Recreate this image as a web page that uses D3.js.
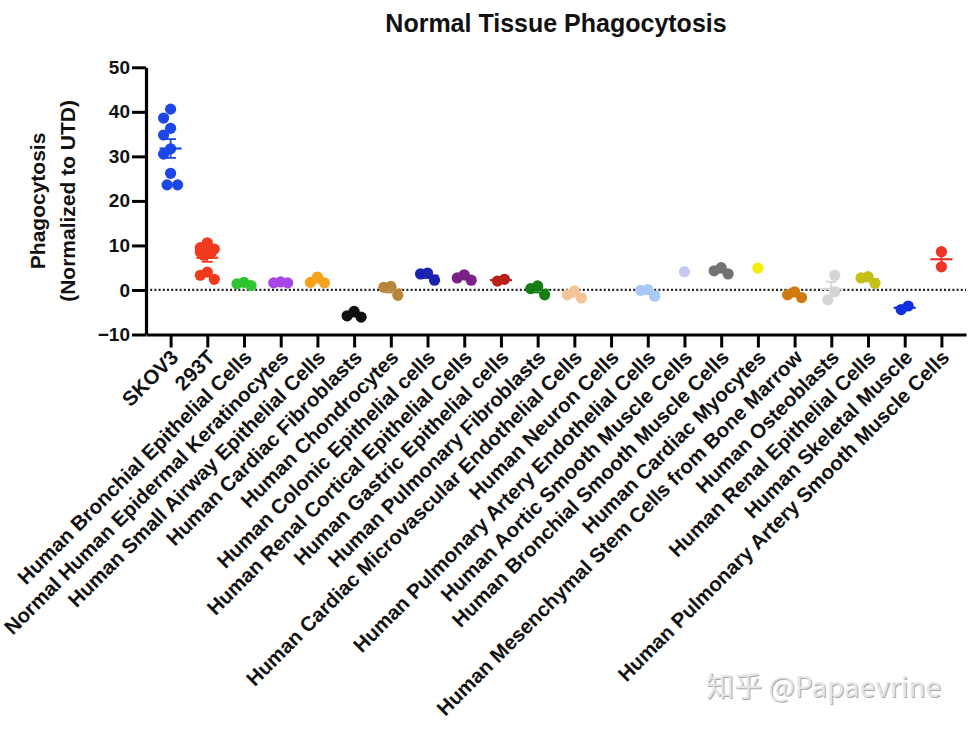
<!DOCTYPE html>
<html>
<head>
<meta charset="utf-8">
<script src="https://cdn.jsdelivr.net/npm/d3@7"></script>
<style>
  html, body { margin: 0; padding: 0; background: #fff; }
  svg { display: block; }
  text { font-family: "Liberation Sans", Arial, Helvetica, sans-serif; }
</style>
</head>
<body>
<svg id="chart" width="978" height="731"></svg>
<script>
// ---------- DATA ----------
const categories = [
  "SKOV3", "293T", "Human Bronchial Epithelial Cells", "Normal Human Epidermal Keratinocytes",
  "Human Small Airway Epithelial Cells", "Human Cardiac Fibroblasts", "Human Chondrocytes",
  "Human Colonic Epithelial cells", "Human Renal Cortical Epithelial Cells", "Human Gastric Epithelial cells",
  "Human Pulmonary Fibroblasts", "Human Cardiac Microvascular Endothelial Cells", "Human Neuron Cells",
  "Human Pulmonary Artery Endothelial Cells", "Human Aortic Smooth Muscle Cells",
  "Human Bronchial Smooth Muscle Cells", "Human Cardiac Myocytes",
  "Human Mesenchymal Stem Cells from Bone Marrow", "Human Osteoblasts", "Human Renal Epithelial Cells",
  "Human Skeletal Muscle", "Human Pulmonary Artery Smooth Muscle Cells"
];
const skov3Values        = [40.6, 38.6, 36.3, 34.8, 31.7, 30.5, 26.2, 23.6, 23.6];
const t293Values         = [10.6, 9.5, 9.2, 8.8, 8.5, 8.2, 7.8, 4.0, 3.3, 2.4];
const bronchEpiValues    = [1.0, 1.7, 1.4];
const keratinValues      = [1.6, 1.8, 1.6];
const smallAirwayValues  = [2.9, 1.6, 1.7];
const cardFibroValues    = [-4.8, -6.1, -5.8];
const chondroValues      = [-1.2, 0.8, 0.6];
const colonicValues      = [2.2, 3.8, 3.6];
const renalCortValues    = [2.2, 3.4, 2.7];
const gastricValues      = [2.0, 2.4];
const pulmFibroValues    = [-1.1, 0.9, 0.3];
const cardMicroValues    = [-1.8, -0.2, -1.1];
const neuronValues       = [];
const pulmArtEndoValues  = [-1.4, 0.1, -0.1];
const aorticSMValues     = [4.1];
const bronchSMValues     = [3.6, 4.3, 5.0];
const cardMyoValues      = [4.9];
const mscValues          = [-1.7, -0.4, -1.1];
const osteoValues        = [3.3, -0.4, -2.2];
const renalEpiValues     = [1.5, 3.0, 2.7];
const skeletalValues     = [-4.4, -3.6];
const pulmArtSMValues    = [8.6, 5.2];

const groupValues = [
  skov3Values, t293Values, bronchEpiValues, keratinValues, smallAirwayValues, cardFibroValues,
  chondroValues, colonicValues, renalCortValues, gastricValues, pulmFibroValues, cardMicroValues,
  neuronValues, pulmArtEndoValues, aorticSMValues, bronchSMValues, cardMyoValues, mscValues,
  osteoValues, renalEpiValues, skeletalValues, pulmArtSMValues
];
const groupColors = [
  "#1a47e6", "#f03a1e", "#2ec52e", "#a646e6", "#f7a21b", "#111111",
  "#b8863b", "#1c22b0", "#7a2086", "#b82018", "#157d15", "#f5c597",
  "#999999", "#a8c8f5", "#c8c8f5", "#737373", "#f2ee0a", "#d07a10",
  "#d5d5d5", "#c6bf17", "#1030e0", "#ee3526"
];
const yTicks = [-10, 0, 10, 20, 30, 40, 50];
const chartTitle = "Normal Tissue Phagocytosis";
const yTitleLines = ["Phagocytosis", "(Normalized to UTD)"];
const watermark = "知乎 @Papaevrine";

// ---------- LAYOUT ----------
const svg = d3.select("#chart");
const plotLeft = 146, plotRight = 966, plotTop = 67.3, plotBottom = 334.5;

const x = d3.scalePoint().domain(categories).range([plotLeft, plotRight]).padding(0.67);
const y = d3.scaleLinear().domain([-10, 50]).range([plotBottom, plotTop]);

// title
svg.append("text")
  .attr("x", (plotLeft + plotRight) / 2).attr("y", 32)
  .attr("text-anchor", "middle")
  .style("font-size", "25px").style("font-weight", "bold").attr("fill", "#111")
  .text(chartTitle);

// y title
const yt = svg.append("text")
  .attr("transform", `translate(45, ${(plotTop + plotBottom) / 2}) rotate(-90)`)
  .attr("text-anchor", "middle")
  .style("font-size", "21px").style("font-weight", "bold").attr("fill", "#111");
yTitleLines.forEach((t, i) => {
  yt.append("tspan").attr("x", 0).attr("dy", i === 0 ? "0" : "1.45em").text(t);
});

// zero reference line
svg.append("line")
  .attr("x1", plotLeft).attr("x2", plotRight)
  .attr("y1", y(0)).attr("y2", y(0))
  .attr("stroke", "#222").attr("stroke-width", 2.2)
  .attr("stroke-dasharray", "2,2.2");

// axes
const yAxis = svg.append("g")
  .attr("transform", `translate(${plotLeft},0)`)
  .call(d3.axisLeft(y).tickValues(yTicks).tickSize(14).tickSizeOuter(0).tickPadding(2).tickFormat(d3.format("d")));
yAxis.select(".domain").attr("stroke", "#000").attr("stroke-width", 3.2);
yAxis.selectAll(".tick line").attr("stroke", "#000").attr("stroke-width", 3);
yAxis.selectAll(".tick text")
  .style("font-size", "19px").style("font-weight", "bold")
  .style("font-family", "'Liberation Sans', Arial, sans-serif").attr("fill", "#111");

const xAxis = svg.append("g")
  .attr("transform", `translate(0,${plotBottom})`)
  .call(d3.axisBottom(x).tickSize(13).tickSizeOuter(0).tickFormat(""));
xAxis.select(".domain").attr("stroke", "#000").attr("stroke-width", 3.2);
xAxis.selectAll(".tick line").attr("stroke", "#000").attr("stroke-width", 3);

// x labels rotated
svg.append("g").selectAll("text")
  .data(categories).join("text")
  .attr("transform", d => `translate(${x(d) + 4},${plotBottom + 19}) rotate(-45)`)
  .attr("text-anchor", "end")
  .attr("dy", "0.35em")
  .style("font-size", "20.5px").style("font-weight", "bold").attr("fill", "#111")
  .text(d => d);

// ---------- POINTS (compact beeswarm) ----------
const r = 5.6;
function swarm(vals) {
  const pts = vals.map(v => ({ v, py: y(v) })).sort((a, b) => a.py - b.py);
  const placed = [];
  const minD = 12, maxOff = 7;
  const cands = d3.range(-maxOff, maxOff + 0.01, 3.5).sort((a, b) => Math.abs(a) - Math.abs(b) || a - b);
  pts.forEach(p => {
    let best = null, bestD = -1;
    for (const off of cands) {
      const d = placed.length ? d3.min(placed, q => Math.hypot(q.dx - off, q.py - p.py)) : Infinity;
      if (d >= minD) { best = off; break; }
      if (d > bestD + 0.5) { bestD = d; best = off; }
    }
    p.dx = best; placed.push(p);
  });
  if (placed.length) {
    const mn = d3.min(placed, d => d.dx), mx = d3.max(placed, d => d.dx);
    const c = (mn + mx) / 2;
    placed.forEach(p => p.dx -= c);
  }
  return placed;
}

const groups = svg.append("g");
categories.forEach((cat, i) => {
  const vals = groupValues[i];
  if (!vals.length) return;
  const cx = x(cat);
  const col = groupColors[i];
  const g = groups.append("g");
  g.selectAll("circle").data(swarm(vals)).join("circle")
    .attr("cx", d => cx + d.dx).attr("cy", d => d.py).attr("r", r)
    .attr("fill", col);
  if (vals.length > 1) {
    const m = d3.mean(vals);
    const sem = d3.deviation(vals) / Math.sqrt(vals.length);
    g.append("line").attr("x1", cx - 11).attr("x2", cx + 11)
      .attr("y1", y(m)).attr("y2", y(m)).attr("stroke", col).attr("stroke-width", 2.2);
    g.append("line").attr("x1", cx).attr("x2", cx)
      .attr("y1", y(m - sem)).attr("y2", y(m + sem)).attr("stroke", col).attr("stroke-width", 1.8);
    [m - sem, m + sem].forEach(e => {
      g.append("line").attr("x1", cx - 5.5).attr("x2", cx + 5.5)
        .attr("y1", y(e)).attr("y2", y(e)).attr("stroke", col).attr("stroke-width", 1.8);
    });
  }
});

// watermark
svg.append("text").attr("x", 706).attr("y", 697)
  .style("font-family", "'Noto Sans CJK SC', 'Noto Sans', sans-serif")
  .style("font-size", "28px").attr("fill", "#a8a8a8").text(watermark)
  .attr("transform", "translate(1,1)");
svg.append("text").attr("x", 706).attr("y", 697)
  .style("font-family", "'Noto Sans CJK SC', 'Noto Sans', sans-serif")
  .style("font-size", "28px").attr("fill", "#e6e6e6").text(watermark);
</script>
</body>
</html>
